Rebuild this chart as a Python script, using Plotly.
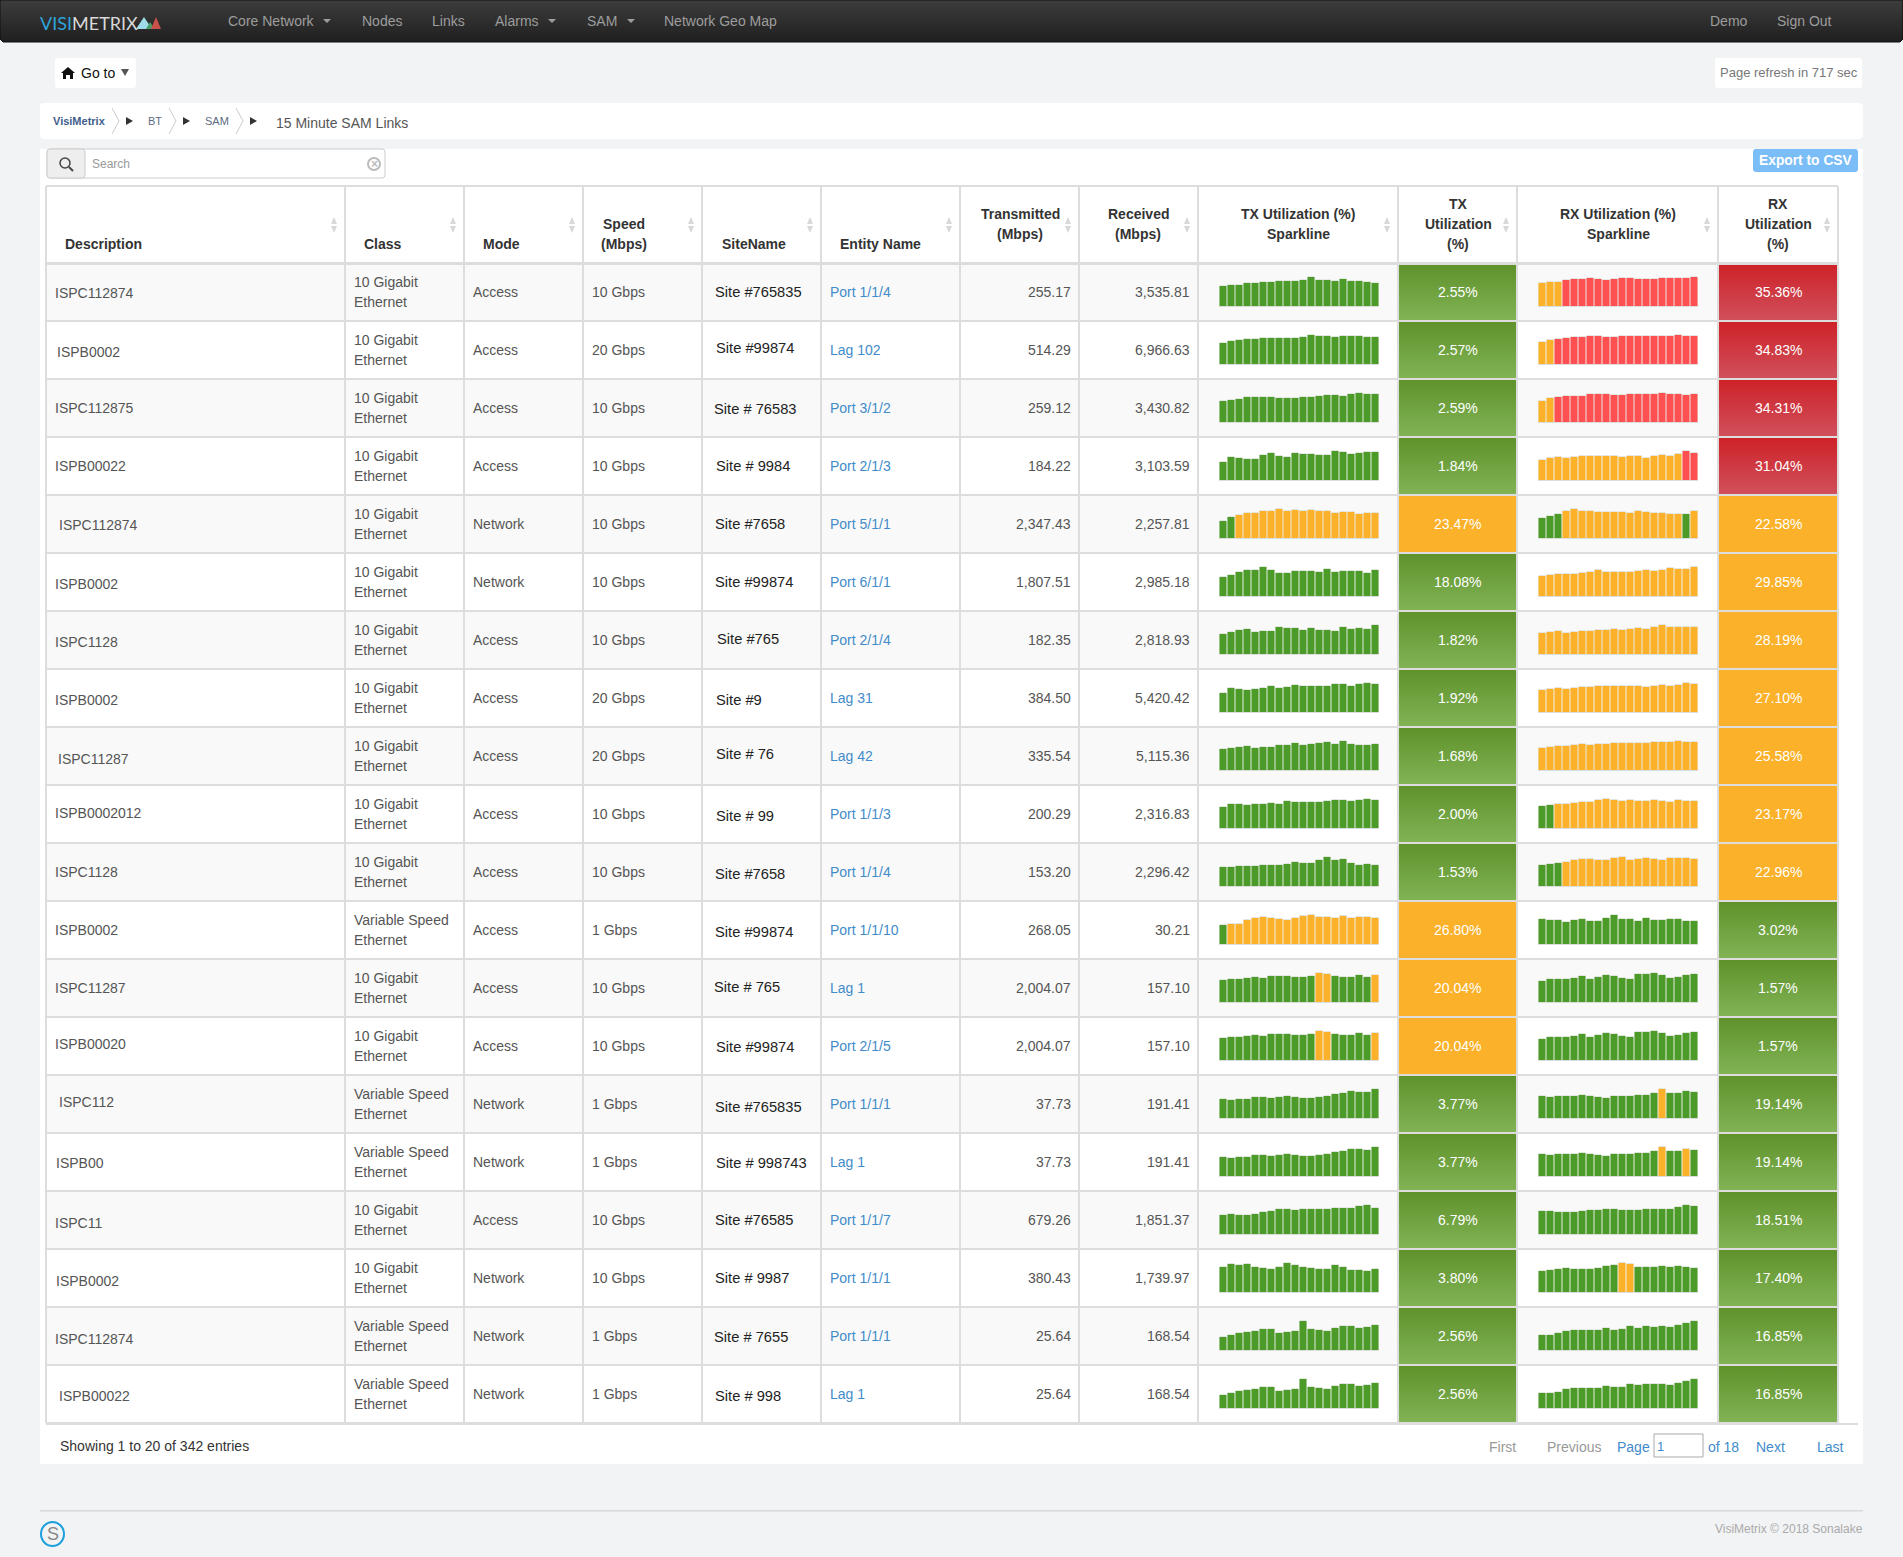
import plotly.graph_objects as go

# ---------------- data ----------------
descriptions = ["ISPC112874","ISPB0002","ISPC112875","ISPB00022","ISPC112874","ISPB0002","ISPC1128","ISPB0002","ISPC11287","ISPB0002012","ISPC1128","ISPB0002","ISPC11287","ISPB00020","ISPC112","ISPB00","ISPC11","ISPB0002","ISPC112874","ISPB00022"]
classes = ["10 Gigabit","10 Gigabit","10 Gigabit","10 Gigabit","10 Gigabit","10 Gigabit","10 Gigabit","10 Gigabit","10 Gigabit","10 Gigabit","10 Gigabit","Variable Speed","10 Gigabit","10 Gigabit","Variable Speed","Variable Speed","10 Gigabit","10 Gigabit","Variable Speed","Variable Speed"]
modes = ["Access","Access","Access","Access","Network","Network","Access","Access","Access","Access","Access","Access","Access","Access","Network","Network","Access","Network","Network","Network"]
speeds = ["10 Gbps","20 Gbps","10 Gbps","10 Gbps","10 Gbps","10 Gbps","10 Gbps","20 Gbps","20 Gbps","10 Gbps","10 Gbps","1 Gbps","10 Gbps","10 Gbps","1 Gbps","1 Gbps","10 Gbps","10 Gbps","1 Gbps","1 Gbps"]
sites = ["Site #765835","Site #99874","Site # 76583","Site # 9984","Site #7658","Site #99874","Site #765","Site #9","Site # 76","Site # 99","Site #7658","Site #99874","Site # 765","Site #99874","Site #765835","Site # 998743","Site #76585","Site # 9987","Site # 7655","Site # 998"]
entities = ["Port 1/1/4","Lag 102","Port 3/1/2","Port 2/1/3","Port 5/1/1","Port 6/1/1","Port 2/1/4","Lag 31","Lag 42","Port 1/1/3","Port 1/1/4","Port 1/1/10","Lag 1","Port 2/1/5","Port 1/1/1","Lag 1","Port 1/1/7","Port 1/1/1","Port 1/1/1","Lag 1"]
transmitted = ["255.17","514.29","259.12","184.22","2,347.43","1,807.51","182.35","384.50","335.54","200.29","153.20","268.05","2,004.07","2,004.07","37.73","37.73","679.26","380.43","25.64","25.64"]
received = ["3,535.81","6,966.63","3,430.82","3,103.59","2,257.81","2,985.18","2,818.93","5,420.42","5,115.36","2,316.83","2,296.42","30.21","157.10","157.10","191.41","191.41","1,851.37","1,739.97","168.54","168.54"]
tx_util = [2.55,2.57,2.59,1.84,23.47,18.08,1.82,1.92,1.68,2.00,1.53,26.80,20.04,20.04,3.77,3.77,6.79,3.80,2.56,2.56]
rx_util = [35.36,34.83,34.31,31.04,22.58,29.85,28.19,27.10,25.58,23.17,22.96,3.02,1.57,1.57,19.14,19.14,18.51,17.40,16.85,16.85]

# sparkline bar heights (each sparkline peaks at 29)
tx_spark = [
 [20,21,21,23,23,24,24,25,25,25,26,29,26,26,25,27,25,25,24,23],
 [21,23,24,25,25,26,26,26,26,26,27,29,28,28,27,28,28,28,27,27],
 [21,22,23,25,25,25,25,24,24,24,25,25,26,27,27,26,28,29,28,28],
 [18,23,22,21,21,25,27,24,23,27,26,26,25,25,29,28,26,27,28,28],
 [17,21,23,25,25,27,27,29,27,28,27,28,27,27,25,26,26,24,25,25],
 [19,21,24,26,26,29,26,23,23,25,25,25,24,27,24,25,25,25,23,26],
 [20,22,24,25,22,23,23,27,26,26,24,26,24,24,23,27,25,26,25,29],
 [19,24,23,22,23,24,26,24,25,27,26,26,26,26,28,28,26,28,29,28],
 [21,22,23,24,22,23,23,25,25,27,25,26,27,28,26,29,26,25,25,26],
 [21,24,24,23,24,24,25,24,27,26,26,26,26,27,28,28,27,28,29,28],
 [19,19,20,20,20,21,21,21,22,24,23,23,26,29,26,27,23,21,22,21],
 [19,20,20,24,26,27,26,25,24,26,28,29,27,27,26,28,26,27,27,26],
 [22,23,23,24,25,24,26,26,26,25,25,26,29,28,26,25,25,27,25,27],
 [22,23,23,24,25,24,26,26,26,25,25,26,29,28,26,25,25,27,25,27],
 [19,18,19,19,21,21,20,21,22,21,20,20,21,22,24,25,27,26,26,29],
 [19,18,19,19,21,21,20,21,22,21,20,20,21,22,24,25,27,27,26,29],
 [19,20,19,19,20,22,23,25,25,24,25,25,25,25,26,26,26,28,29,26],
 [25,28,27,28,25,24,23,25,29,27,25,24,23,23,27,25,22,22,21,23],
 [13,15,17,18,19,21,21,17,18,19,29,21,20,19,22,24,24,22,23,25],
 [13,15,17,18,19,21,21,17,18,19,29,21,20,19,22,24,24,22,23,25],
]
rx_spark = [
 [23,24,24,26,27,27,28,27,26,27,28,28,27,27,27,28,28,28,28,29],
 [22,24,25,26,27,27,28,28,27,27,28,28,28,28,28,28,28,29,28,28],
 [21,24,25,26,26,26,28,28,28,27,27,28,28,28,28,29,28,28,27,28],
 [20,22,23,22,23,24,24,24,24,24,23,24,24,22,24,25,24,26,29,27],
 [20,22,24,27,29,27,27,26,26,26,26,25,27,26,25,25,24,24,24,27],
 [20,21,22,22,22,23,24,26,24,24,24,24,25,26,25,26,28,27,27,29],
 [21,22,23,21,22,23,23,24,24,25,24,25,26,25,27,29,27,27,27,27],
 [22,23,24,23,24,25,25,26,26,26,26,26,26,25,26,27,26,27,29,28],
 [22,23,24,24,25,26,25,26,26,27,27,27,27,27,28,28,28,29,28,28],
 [22,23,24,24,25,26,26,28,29,28,27,28,27,27,28,27,26,28,27,27],
 [21,22,23,24,26,27,27,26,26,28,29,26,27,28,27,26,28,28,28,27],
 [25,24,24,22,24,25,23,23,26,29,25,25,23,26,24,24,25,25,23,23],
 [21,23,23,23,24,26,23,25,27,26,24,23,28,28,29,27,24,25,27,28],
 [21,23,23,23,24,26,23,25,27,26,24,23,28,28,29,27,24,25,27,28],
 [22,21,22,22,22,23,22,21,20,22,22,22,23,23,25,29,25,25,27,26],
 [22,21,22,22,22,23,22,21,20,22,22,22,23,23,25,29,25,25,27,26],
 [23,23,22,22,22,23,24,24,25,25,24,24,24,25,25,25,25,27,29,28],
 [21,22,23,24,23,23,23,24,26,27,29,28,25,25,25,26,25,26,25,24],
 [15,15,17,19,20,20,20,20,22,20,21,24,22,24,23,24,23,25,27,29],
 [15,15,16,19,20,20,20,20,22,21,21,24,23,24,24,24,23,25,27,29],
]
# bar status per sparkline: g = normal, o = warning, r = critical
tx_status = ["gggggggggggggggggggg","gggggggggggggggggggg","gggggggggggggggggggg","gggggggggggggggggggg",
 "ggoooooooooooooooooo","gggggggggggggggggggg","gggggggggggggggggggg","gggggggggggggggggggg",
 "gggggggggggggggggggg","gggggggggggggggggggg","gggggggggggggggggggg","gooooooooooooooooooo",
 "ggggggggggggoogggggo","ggggggggggggoogggggo","gggggggggggggggggggg","gggggggggggggggggggg",
 "gggggggggggggggggggg","gggggggggggggggggggg","gggggggggggggggggggg","gggggggggggggggggggg"]
rx_status = ["ooorrrrrrrrrrrrrrrrr","oorrrrrrrrrrrrrrrrrr","oorrrrrrrrrrrrrrrrrr","oooooooooooooooooorr",
 "gggoooooooooooooo"+"ogo","oooooooooooooooooooo","oooooooooooooooooooo","oooooooooooooooooooo",
 "oooooooooooooooooooo","ggoooooooooooooooooo","gggooooooooooooooooo","gggggggggggggggggggg",
 "gggggggggggggggggggg","gggggggggggggggggggg","gggggggggggggggogggg","gggggggggggggggoggog",
 "gggggggggggggggggggg","ggggggggggoogggggggg","gggggggggggggggggggg","gggggggggggggggggggg"]

# ---------------- page geometry ----------------
W, H = 1903, 1557
col_edges = [46,345,464,583,702,821,960,1079,1198,1398,1517,1718,1838]
ROW_TOP, ROW_H = 263, 58
FONT = "Liberation Sans"
C_LINE = "#dddddd"
SPARK = {"g":"#4c9a27","o":"#fbb12a","r":"#fe5050"}
GRAD = {"g":("#5f922b","#81b355"),"r":("#ce2228","#d0505c"),"o":("#fbb12a","#fbb12a")}

shapes, ann = [], []
fig = go.Figure()

def rect(x0,y0,x1,y1,fill,line=None,lw=1):
    shapes.append(dict(type="rect",xref="x",yref="y",x0=x0,y0=y0,x1=x1,y1=y1,fillcolor=fill,
                       line=dict(color=line or "rgba(0,0,0,0)",width=lw if line else 0),layer="below"))
def rrect(x0,y0,x1,y1,r,fill,line=None,lw=1):
    p=(f"M{x0+r},{y0}L{x1-r},{y0}Q{x1},{y0} {x1},{y0+r}L{x1},{y1-r}Q{x1},{y1} {x1-r},{y1}"
       f"L{x0+r},{y1}Q{x0},{y1} {x0},{y1-r}L{x0},{y0+r}Q{x0},{y0} {x0+r},{y0}Z")
    shapes.append(dict(type="path",xref="x",yref="y",path=p,fillcolor=fill,
                       line=dict(color=line or "rgba(0,0,0,0)",width=lw if line else 0),layer="below"))
def poly(pts,fill,line=None,lw=1,layer="above"):
    p="M"+"L".join(f"{a},{b}" for a,b in pts)+"Z"
    shapes.append(dict(type="path",xref="x",yref="y",path=p,fillcolor=fill,
                       line=dict(color=line or "rgba(0,0,0,0)",width=lw if line else 0),layer=layer))
def seg(pts,color,lw=1):
    p="M"+"L".join(f"{a},{b}" for a,b in pts)
    shapes.append(dict(type="path",xref="x",yref="y",path=p,line=dict(color=color,width=lw),layer="above"))
def txt(x,y,s,color="#555555",size=14,anchor="left",bold=False,family=FONT):
    ann.append(dict(xref="x",yref="y",x=x,y=y,text=f"<b>{s}</b>" if bold else s,showarrow=False,
                    xanchor=anchor,yanchor="middle",align=anchor,borderpad=0,borderwidth=0,
                    font=dict(family=family,size=size,color=color)))
def grad(xs,ys,top,bottom,line=None):
    fig.add_trace(go.Scatter(x=xs,y=ys,mode="lines",fill="toself",
        line=dict(width=1 if line else 0,color=line or "rgba(0,0,0,0)"),hoverinfo="skip",showlegend=False,
        fillgradient=dict(type="vertical",colorscale=[[0,bottom],[1,top]]),xaxis="x",yaxis="y"))

# ---------------- chrome ----------------
grad([0,W,W,W-3,3,0,0],[0,0,39,42,42,39,0],"#3d3d3d","#1f1f1f","#111111")
txt(40,23,'<span style="color:#2ea3d9">VISI</span><span style="color:#d8d8d8">METRIX</span>',size=18,family="Lato")
poly([(136,29),(144,17),(152,29)],"#9fdcea")
poly([(146,29),(150,22),(155,29)],"#4a9a6a")
poly([(151,29),(156,17),(161,29)],"#c8524a")
for x,s in [(228,"Core Network"),(362,"Nodes"),(432,"Links"),(495,"Alarms"),(587,"SAM"),(664,"Network Geo Map"),(1710,"Demo"),(1777,"Sign Out")]:
    txt(x,21,s,"#9d9d9d")
for x in [327,552,631]:
    poly([(x-4,19),(x+4,19),(x,23)],"#9d9d9d")

rrect(55,58,136,88,3,"#ffffff")
poly([(61,73),(68,67),(75,73),(73,73),(73,79),(70,79),(70,75),(66,75),(66,79),(63,79),(63,73)],"#111111")
txt(81,72.5,"Go to","#111111")
poly([(121,69),(129,69),(125,76)],"#555555")
rrect(1715,58,1862,88,3,"#ffffff")
txt(1720,72.5,"Page refresh in 717 sec","#777777",size=13)

rrect(40,103,1863,139,4,"#ffffff")
txt(53,121,"VisiMetrix","#3f5e8c",size=11,bold=True)
txt(148,121,"BT","#5b6b80",size=11)
txt(205,121,"SAM","#5b6b80",size=11)
for a in [112,169,236]:
    seg([(a,108),(a+7,121),(a,134)],"#cccccc")
for a in [126,183,250]:
    poly([(a,117),(a,125),(a+7,121)],"#333333")
txt(276,123,"15 Minute SAM Links","#555555")

rect(40,149,1863,1464,"#ffffff")
rrect(47,149,385,178,3,"#ffffff","#cccccc")
rrect(47,149,85,178,3,"#eeeeee","#cccccc")
shapes.append(dict(type="circle",xref="x",yref="y",x0=60,y0=158,x1=70,y1=168,line=dict(color="#444444",width=1.5),layer="above"))
seg([(69,167),(73,171)],"#444444",2)
txt(92,164,"Search","#999999",size=12)
shapes.append(dict(type="circle",xref="x",yref="y",x0=368,y0=158,x1=380,y1=170,line=dict(color="#bbbbbb",width=2),layer="above"))
txt(374,164,"×","#bbbbbb",size=12,anchor="center",bold=True)
rrect(1753,149,1858,172,3,"#7bbdf7")
txt(1805.5,160,"Export to CSV","#ffffff",size=13.8,anchor="center",bold=True)

# ---------------- table ----------------
TOP, BOT = 186, ROW_TOP+20*ROW_H
rect(col_edges[0],TOP,col_edges[-1],ROW_TOP,"#ffffff")
for i in range(20):
    y0=ROW_TOP+i*ROW_H
    rect(col_edges[0],y0,col_edges[-1],y0+ROW_H,"#f9f9f9" if i%2==0 else "#ffffff")

def level(v):
    return "r" if v>=30 else ("o" if v>=20 else "g")

for i,(tu,ru) in enumerate(zip(tx_util,rx_util)):
    y0=ROW_TOP+i*ROW_H
    ytop=y0+2 if i==0 else y0+1
    ybot=y0+ROW_H-1
    for (a,b),v in (((col_edges[9],col_edges[10]),tu),((col_edges[11],col_edges[12]),ru)):
        t,bm=GRAD[level(v)]
        grad([a+1,b-1,b-1,a+1,a+1],[ytop,ytop,ybot,ybot,ytop],t,bm)
        txt((a+b)/2,y0+29,f"{v:.2f}%","#ffffff",anchor="center")

# grid lines
for i in range(21):
    y=ROW_TOP+i*ROW_H
    rect(col_edges[0],y-1,col_edges[-1],y+1,C_LINE)
rect(col_edges[0],ROW_TOP-1,col_edges[-1],ROW_TOP+2,C_LINE)
rect(col_edges[0],TOP-1,col_edges[-1],TOP+1,C_LINE)
rect(col_edges[0],BOT,1858,BOT+2,C_LINE)
for x in col_edges:
    rect(x-1,TOP,x+1,BOT,C_LINE)

headers=[(65,[244],"Description","left"),(364,[244],"Class","left"),(483,[244],"Mode","left"),(624,[224,244],"Speed|(Mbps)","center"),
 (722,[244],"SiteName","left"),(840,[244],"Entity Name","left"),(1020,[214,234],"Transmitted|(Mbps)","center"),(1138,[214,234],"Received|(Mbps)","center"),
 (1298,[214,234],"TX Utilization (%)|Sparkline","center"),(1458,[204,224,244],"TX|Utilization|(%)","center"),
 (1618,[214,234],"RX Utilization (%)|Sparkline","center"),(1778,[204,224,244],"RX|Utilization|(%)","center")]
for x,ys,s,a in headers:
    for y,line in zip(ys,s.split("|")):
        txt(x,y,line,"#333333",anchor=a,bold=True)
for e in col_edges[1:]:
    xc=e-11
    poly([(xc-3,224),(xc,217),(xc+3,224)],"#d8d8d8")
    poly([(xc-3,226),(xc,233),(xc+3,226)],"#d8d8d8")

dx_desc=[1,3,1,1,5,1,1,1,4,1,1,1,1,1,5,2,1,2,1,5]
dy_desc=[1,2,0,0,1,2,2,2,3,-1,0,0,0,-2,-2,1,3,3,3,2]
dx_site=[0,1,-1,1,0,0,2,1,1,1,0,0,-1,1,0,1,0,0,-1,0]
dy_site=[0,-2,1,0,0,0,-1,2,-2,2,2,2,-1,1,3,1,0,0,1,2]
for i in range(20):
    yc=ROW_TOP+i*ROW_H+29
    txt(54+dx_desc[i],yc+dy_desc[i],descriptions[i],"#555555")
    txt(354,yc-10,classes[i],"#555555")
    txt(354,yc+10,"Ethernet","#555555")
    txt(473,yc,modes[i],"#555555")
    txt(592,yc,speeds[i],"#555555")
    txt(715+dx_site[i],yc+dy_site[i],sites[i],"#222222",size=14.7)
    txt(830,yc,entities[i],"#428bca")
    txt(1071,yc,transmitted[i],"#555555",anchor="right")
    txt(1190,yc,received[i],"#555555",anchor="right")

# ---------------- sparklines, one pair of axes each ----------------
layout_axes={}
axis_no=1
SPARK_W,SPARK_H=160,30
for i in range(20):
    base=ROW_TOP+i*ROW_H+43
    for vals,status,left in ((tx_spark[i],tx_status[i],1219),(rx_spark[i],rx_status[i],1538)):
        axis_no+=1
        # soft one-unit cap above each bar, as the sparkline library draws it
        fig.add_trace(go.Bar(x=list(range(len(vals))),y=[v+1 for v in vals],xaxis=f"x{axis_no}",yaxis=f"y{axis_no}",
            marker=dict(color="#e3e6e0",line=dict(width=0)),hoverinfo="skip",showlegend=False))
        fig.add_trace(go.Bar(x=list(range(len(vals))),y=vals,xaxis=f"x{axis_no}",yaxis=f"y{axis_no}",
            marker=dict(color=[SPARK[c] for c in status],line=dict(width=0)),hoverinfo="skip",showlegend=False))
        layout_axes[f"xaxis{axis_no}"]=dict(domain=[left/W,(left+SPARK_W)/W],range=[-0.5,19.5],anchor=f"y{axis_no}",
            showgrid=False,zeroline=False,showticklabels=False,ticks="",showline=True,linecolor="#dddddd",linewidth=1,fixedrange=True)
        layout_axes[f"yaxis{axis_no}"]=dict(domain=[1-base/H,1-(base-SPARK_H)/H],range=[0,30],anchor=f"x{axis_no}",
            showgrid=False,zeroline=False,showticklabels=False,ticks="",showline=False,fixedrange=True)

# ---------------- footer ----------------
txt(60,1446,"Showing 1 to 20 of 342 entries","#333333")
for x,s,c in [(1489,"First","#999999"),(1547,"Previous","#999999"),(1617,"Page","#428bca"),(1708,"of 18","#428bca"),(1756,"Next","#428bca"),(1817,"Last","#428bca")]:
    txt(x,1447,s,c)
rect(1654,1434,1703,1457,"#ffffff","#a9a9a9",1)
txt(1657,1446,"1","#428bca",size=13)
rect(40,1510,1863,1511.5,"#d8d8d8")
shapes.append(dict(type="circle",xref="x",yref="y",x0=41,y0=1522,x1=64,y1=1546,line=dict(color="#1d9fdc",width=2),layer="above"))
txt(52.5,1534,"S","#888888",size=18,anchor="center")
txt(1863,1529,"VisiMetrix © 2018 Sonalake","#aaaaaa",size=12,anchor="right")

fig.update_layout(width=W,height=H,autosize=False,margin=dict(l=0,r=0,t=0,b=0,pad=0),
    paper_bgcolor="#f2f3f5",plot_bgcolor="rgba(0,0,0,0)",showlegend=False,bargap=0.12,barmode="overlay",
    font=dict(family=FONT),shapes=shapes,annotations=ann,hovermode=False,
    xaxis=dict(domain=[0,1],range=[0,W],visible=False,fixedrange=True),
    yaxis=dict(domain=[0,1],range=[H,0],visible=False,fixedrange=True),**layout_axes)
fig.write_html("out.html",config=dict(displayModeBar=False),
    post_script="document.body.style.margin='0';document.body.style.overflow='hidden';")
